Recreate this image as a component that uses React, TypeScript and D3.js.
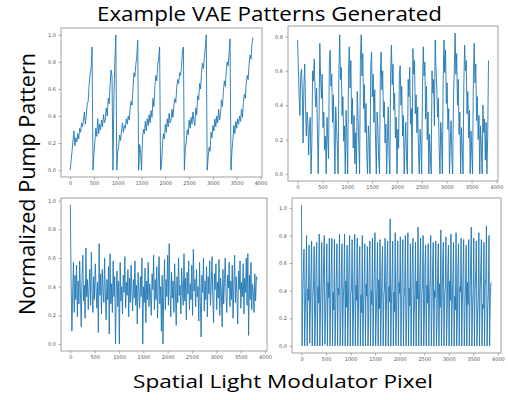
import React, { useEffect, useRef } from 'react';
import * as d3 from 'd3';

// Values (pixel index = i * step)
const sawtoothStep = 20;
const sawtoothValues = [
  0.00, 0.07, 0.14, 0.22, 0.29, 0.18, 0.24, 0.21, 0.27, 0.23,
  0.31, 0.28, 0.35, 0.32, 0.37, 0.43, 0.34, 0.41, 0.49, 0.51,
  0.64, 0.71, 0.75, 0.91, 0.00, 0.12, 0.21, 0.31, 0.25, 0.38,
  0.27, 0.34, 0.30, 0.37, 0.32, 0.41, 0.35, 0.38, 0.46, 0.40,
  0.53, 0.49, 0.63, 0.74, 0.69, 0.00, 0.55, 0.81, 1.00, 0.00,
  0.14, 0.18, 0.26, 0.22, 0.29, 0.35, 0.28, 0.33, 0.31, 0.38,
  0.34, 0.40, 0.37, 0.45, 0.51, 0.48, 0.60, 0.72, 0.69, 0.78,
  0.84, 0.96, 0.00, 0.19, 0.13, 0.00, 0.24, 0.30, 0.27, 0.36,
  0.29, 0.38, 0.33, 0.41, 0.35, 0.44, 0.39, 0.53, 0.47, 0.62,
  0.70, 0.66, 0.78, 0.82, 0.91, 0.00, 0.04, 0.20, 0.27, 0.23,
  0.34, 0.28, 0.38, 0.32, 0.42, 0.35, 0.37, 0.45, 0.39, 0.48,
  0.53, 0.50, 0.61, 0.67, 0.64, 0.72, 0.70, 0.76, 0.88, 0.91,
  0.00, 0.16, 0.21, 0.30, 0.26, 0.37, 0.31, 0.39, 0.34, 0.43,
  0.37, 0.33, 0.46, 0.41, 0.55, 0.52, 0.64, 0.60, 0.72, 0.79,
  0.75, 0.83, 0.90, 1.00, 0.00, 0.10, 0.17, 0.14, 0.28, 0.24,
  0.33, 0.29, 0.38, 0.32, 0.40, 0.35, 0.45, 0.37, 0.42, 0.52,
  0.47, 0.58, 0.66, 0.62, 0.73, 0.80, 0.77, 0.87, 0.97, 0.00,
  0.15, 0.22, 0.33, 0.27, 0.36, 0.31, 0.38, 0.34, 0.40, 0.36,
  0.45, 0.39, 0.50, 0.56, 0.53, 0.64, 0.70, 0.67, 0.78, 0.85,
  0.82, 0.93, 0.98,
];

const jaggedStep = 16;
const jaggedValues = [
  0.78, 0.62, 0.45, 0.34, 0.58, 0.61, 0.47, 0.18, 0.52, 0.64,
  0.40, 0.22, 0.36, 0.30, 0.11, 0.28, 0.33, 0.00, 0.19, 0.60,
  0.54, 0.67, 0.48, 0.39, 0.50, 0.24, 0.00, 0.31, 0.76, 0.56,
  0.44, 0.58, 0.27, 0.36, 0.14, 0.22, 0.00, 0.33, 0.20, 0.09,
  0.65, 0.72, 0.51, 0.58, 0.30, 0.46, 0.24, 0.00, 0.39, 0.27,
  0.16, 0.00, 0.60, 0.81, 0.55, 0.62, 0.34, 0.45, 0.19, 0.28,
  0.00, 0.37, 0.21, 0.00, 0.58, 0.74, 0.50, 0.66, 0.29, 0.44,
  0.15, 0.34, 0.06, 0.24, 0.00, 0.48, 0.33, 0.17, 0.00, 0.66,
  0.81, 0.57, 0.70, 0.38, 0.52, 0.24, 0.41, 0.12, 0.00, 0.28,
  0.19, 0.00, 0.62, 0.71, 0.45, 0.58, 0.30, 0.49, 0.20, 0.00,
  0.36, 0.26, 0.08, 0.00, 0.55, 0.71, 0.49, 0.60, 0.33, 0.42,
  0.18, 0.29, 0.00, 0.22, 0.39, 0.10, 0.00, 0.59, 0.75, 0.52,
  0.64, 0.37, 0.47, 0.21, 0.33, 0.00, 0.26, 0.15, 0.58, 0.63,
  0.40, 0.51, 0.22, 0.34, 0.00, 0.18, 0.30, 0.08, 0.00, 0.55,
  0.45, 0.62, 0.29, 0.38, 0.00, 0.73, 0.58, 0.66, 0.35, 0.46,
  0.24, 0.39, 0.12, 0.00, 0.26, 0.17, 0.00, 0.48, 0.74, 0.57,
  0.65, 0.32, 0.51, 0.20, 0.36, 0.00, 0.23, 0.10, 0.00, 0.60,
  0.47, 0.55, 0.28, 0.78, 0.61, 0.50, 0.33, 0.44, 0.15, 0.00,
  0.30, 0.21, 0.00, 0.52, 0.78, 0.59, 0.72, 0.41, 0.53, 0.26,
  0.38, 0.00, 0.18, 0.31, 0.09, 0.00, 0.44, 0.61, 0.82, 0.58,
  0.70, 0.40, 0.55, 0.23, 0.36, 0.00, 0.27, 0.14, 0.00, 0.52,
  0.75, 0.60, 0.66, 0.35, 0.48, 0.21, 0.37, 0.00, 0.25, 0.12,
  0.00, 0.56, 0.76, 0.53, 0.64, 0.31, 0.45, 0.20, 0.34, 0.00,
  0.28, 0.16, 0.00, 0.40, 0.24, 0.32, 0.08, 0.30, 0.00, 0.22,
  0.66,
];

const noiseStep = 16;
const noiseValues = [
  0.97, 0.42, 0.09, 0.36, 0.57, 0.22, 0.48, 0.31, 0.55, 0.19,
  0.44, 0.28, 0.58, 0.35, 0.12, 0.46, 0.62, 0.30, 0.41, 0.18,
  0.67, 0.33, 0.45, 0.24, 0.39, 0.52, 0.27, 0.64, 0.36, 0.22,
  0.47, 0.31, 0.56, 0.40, 0.25, 0.43, 0.08, 0.70, 0.34, 0.49,
  0.21, 0.52, 0.38, 0.29, 0.60, 0.35, 0.17, 0.45, 0.31, 0.54,
  0.07, 0.63, 0.28, 0.42, 0.22, 0.58, 0.33, 0.47, 0.00, 0.39,
  0.51, 0.26, 0.44, 0.00, 0.57, 0.30, 0.40, 0.21, 0.48, 0.36,
  0.61, 0.25, 0.43, 0.34, 0.52, 0.19, 0.46, 0.29, 0.55, 0.38,
  0.23, 0.45, 0.32, 0.58, 0.27, 0.41, 0.14, 0.50, 0.36, 0.25,
  0.47, 0.33, 0.60, 0.00, 0.40, 0.29, 0.53, 0.15, 0.44, 0.31,
  0.57, 0.26, 0.42, 0.35, 0.20, 0.49, 0.38, 0.62, 0.24, 0.45,
  0.31, 0.54, 0.18, 0.43, 0.61, 0.28, 0.40, 0.09, 0.48, 0.00,
  0.37, 0.59, 0.24, 0.45, 0.33, 0.62, 0.27, 0.70, 0.38, 0.19,
  0.50, 0.32, 0.44, 0.22, 0.56, 0.36, 0.13, 0.47, 0.29, 0.60,
  0.34, 0.41, 0.21, 0.53, 0.38, 0.27, 0.63, 0.30, 0.46, 0.17,
  0.50, 0.35, 0.58, 0.24, 0.42, 0.31, 0.55, 0.20, 0.66, 0.37,
  0.45, 0.26, 0.52, 0.33, 0.40, 0.16, 0.57, 0.29, 0.05, 0.48,
  0.36, 0.60, 0.23, 0.44, 0.31, 0.54, 0.19, 0.47, 0.35, 0.58,
  0.27, 0.41, 0.61, 0.33, 0.15, 0.49, 0.38, 0.56, 0.24, 0.43,
  0.32, 0.59, 0.20, 0.46, 0.37, 0.12, 0.52, 0.28, 0.45, 0.60,
  0.34, 0.22, 0.48, 0.39, 0.57, 0.26, 0.44, 0.31, 0.55, 0.18,
  0.40, 0.62, 0.29, 0.47, 0.35, 0.14, 0.51, 0.38, 0.58, 0.25,
  0.43, 0.33, 0.56, 0.21, 0.46, 0.36, 0.60, 0.27, 0.63, 0.06,
  0.48, 0.31, 0.57, 0.24, 0.42, 0.36, 0.22, 0.49, 0.30, 0.47,
  0.45,
];

const pulseStep = 12.9;
const pulseValues = [
  1.02, 0.00, 0.38, 0.55, 0.70, 0.00, 0.24, 0.47, 0.80, 0.00, 0.41, 0.33,
  0.73, 0.02, 0.29, 0.52, 0.76, 0.00, 0.36, 0.44, 0.72, 0.00, 0.19, 0.58,
  0.75, 0.00, 0.43, 0.31, 0.81, 0.00, 0.27, 0.49, 0.75, 0.00, 0.35, 0.62,
  0.80, 0.01, 0.22, 0.40, 0.74, 0.00, 0.46, 0.35, 0.78, 0.00, 0.30, 0.57,
  0.78, 0.00, 0.39, 0.26, 0.77, 0.00, 0.25, 0.50, 0.74, 0.00, 0.42, 0.37,
  0.81, 0.00, 0.18, 0.54, 0.74, 0.00, 0.33, 0.45, 0.81, 0.00, 0.47, 0.28,
  0.73, 0.00, 0.26, 0.59, 0.80, 0.00, 0.38, 0.42, 0.77, 0.00, 0.21, 0.51,
  0.81, 0.00, 0.44, 0.33, 0.78, 0.00, 0.31, 0.56, 0.72, 0.00, 0.37, 0.24,
  0.80, 0.00, 0.28, 0.48, 0.74, 0.00, 0.45, 0.36, 0.72, 0.00, 0.23, 0.60,
  0.76, 0.00, 0.40, 0.30, 0.78, 0.00, 0.34, 0.53, 0.82, 0.00, 0.20, 0.44,
  0.75, 0.00, 0.48, 0.27, 0.77, 0.00, 0.29, 0.55, 0.72, 0.00, 0.36, 0.41,
  0.78, 0.00, 0.25, 0.58, 0.76, 0.00, 0.43, 0.32, 0.92, 0.00, 0.30, 0.49,
  0.76, 0.00, 0.39, 0.25, 0.82, 0.00, 0.22, 0.52, 0.76, 0.00, 0.46, 0.38,
  0.79, 0.00, 0.27, 0.57, 0.77, 0.00, 0.35, 0.43, 0.80, 0.00, 0.19, 0.50,
  0.82, 0.00, 0.42, 0.29, 0.74, 0.00, 0.32, 0.61, 0.78, 0.00, 0.24, 0.40,
  0.75, 0.00, 0.47, 0.34, 0.86, 0.00, 0.28, 0.54, 0.78, 0.00, 0.37, 0.45,
  0.80, 0.00, 0.21, 0.59, 0.73, 0.00, 0.44, 0.31, 0.74, 0.00, 0.33, 0.48,
  0.80, 0.00, 0.26, 0.56, 0.75, 0.00, 0.40, 0.35, 0.76, 0.00, 0.18, 0.52,
  0.74, 0.00, 0.45, 0.28, 0.84, 0.00, 0.31, 0.60, 0.75, 0.00, 0.38, 0.42,
  0.79, 0.00, 0.23, 0.55, 0.73, 0.00, 0.47, 0.33, 0.81, 0.00, 0.29, 0.50,
  0.75, 0.00, 0.36, 0.26, 0.82, 0.00, 0.20, 0.57, 0.74, 0.00, 0.43, 0.39,
  0.78, 0.00, 0.32, 0.53, 0.77, 0.00, 0.25, 0.44, 0.73, 0.00, 0.46, 0.30,
  0.77, 0.00, 0.34, 0.58, 0.86, 0.00, 0.27, 0.41, 0.78, 0.00, 0.41, 0.52,
  0.76, 0.00, 0.22, 0.36, 0.82, 0.00, 0.39, 0.55, 0.77, 0.00, 0.30, 0.27,
  0.75, 0.00, 0.44, 0.49, 0.87, 0.00, 0.28, 0.38, 0.80, 0.00, 0.35, 0.45,
  0.46,
];

const xTicks = [0, 500, 1000, 1500, 2000, 2500, 3000, 3500, 4000];
const yTicksTo1 = [0, 0.2, 0.4, 0.6, 0.8, 1.0];
const yTicksTo08 = [0, 0.2, 0.4, 0.6, 0.8];

const title = 'Example VAE Patterns Generated';
const xLabel = 'Spatial Light Modulator Pixel';
const yLabel = 'Normalized Pump Pattern';

const panels = [
  { values: sawtoothValues, step: sawtoothStep, box: [61, 262, 28, 177], xDomain: [-192, 4031], yDomain: [-0.05, 1.05], yTicks: yTicksTo1 },
  { values: jaggedValues, step: jaggedStep, box: [288, 498, 26, 181], xDomain: [-192, 4031], yDomain: [-0.041, 0.861], yTicks: yTicksTo08 },
  { values: noiseValues, step: noiseStep, box: [61, 267, 198, 351], xDomain: [-192, 4042], yDomain: [-0.0485, 1.0185], yTicks: yTicksTo1 },
  { values: pulseValues, step: pulseStep, box: [292, 501, 198, 353], xDomain: [-193, 4063], yDomain: [-0.051, 1.071], yTicks: yTicksTo1 },
];

const App = () => {
  const svgRef = useRef<SVGSVGElement>(null);

  useEffect(() => {
    const svg = d3.select(svgRef.current);
    svg.selectAll('*').remove();

    panels.forEach(p => {
      const [x0, x1, y0, y1] = p.box;
      const x = d3.scaleLinear().domain(p.xDomain).range([x0, x1]);
      const y = d3.scaleLinear().domain(p.yDomain).range([y1, y0]);
      const g = svg.append('g');

      const line = d3.line<number>()
        .x((_, i) => x(i * p.step))
        .y(d => y(d));

      g.append('path')
        .datum(p.values)
        .attr('fill', 'none')
        .attr('stroke', '#1f77b4')
        .attr('stroke-width', 0.9)
        .attr('stroke-linejoin', 'round')
        .attr('d', line);

      g.append('rect')
        .attr('x', x0)
        .attr('y', y0)
        .attr('width', x1 - x0)
        .attr('height', y1 - y0)
        .attr('fill', 'none')
        .attr('stroke', '#8a8a8a')
        .attr('stroke-width', 0.8);

      const xAxis = g.append('g')
        .attr('transform', `translate(0,${y1})`)
        .call(d3.axisBottom(x).tickValues(xTicks).tickSize(2.5).tickPadding(2).tickFormat(d3.format('d')));
      const yAxis = g.append('g')
        .attr('transform', `translate(${x0},0)`)
        .call(d3.axisLeft(y).tickValues(p.yTicks).tickSize(2.5).tickPadding(2.5).tickFormat(d3.format('.1f')));

      [xAxis, yAxis].forEach(a => {
        a.select('.domain').remove();
        a.selectAll('.tick line').attr('stroke', '#777').attr('stroke-width', 0.6);
        a.selectAll('.tick text')
          .attr('fill', '#555')
          .style('font-family', 'DejaVu Sans')
          .style('font-size', '5px');
      });
    });

    svg.append('text')
      .attr('x', 269.5)
      .attr('y', 21)
      .attr('text-anchor', 'middle')
      .attr('textLength', 345)
      .attr('lengthAdjust', 'spacingAndGlyphs')
      .style('font-family', 'Open Sans')
      .style('font-size', '20px')
      .attr('fill', '#000')
      .text(title);

    svg.append('text')
      .attr('x', 283)
      .attr('y', 388)
      .attr('text-anchor', 'middle')
      .attr('textLength', 300)
      .attr('lengthAdjust', 'spacingAndGlyphs')
      .style('font-family', 'Open Sans')
      .style('font-size', '19px')
      .attr('fill', '#000')
      .text(xLabel);

    svg.append('text')
      .attr('transform', 'translate(34.5,184) rotate(-90)')
      .attr('text-anchor', 'middle')
      .attr('textLength', 262)
      .attr('lengthAdjust', 'spacingAndGlyphs')
      .style('font-family', 'Open Sans')
      .style('font-size', '22px')
      .attr('fill', '#000')
      .text(yLabel);
  }, []);

  return (
    <svg
      ref={svgRef}
      width={508}
      height={400}
      style={{ position: 'absolute', left: 0, top: 0, background: '#fff' }}
    />
  );
};

export default App;
